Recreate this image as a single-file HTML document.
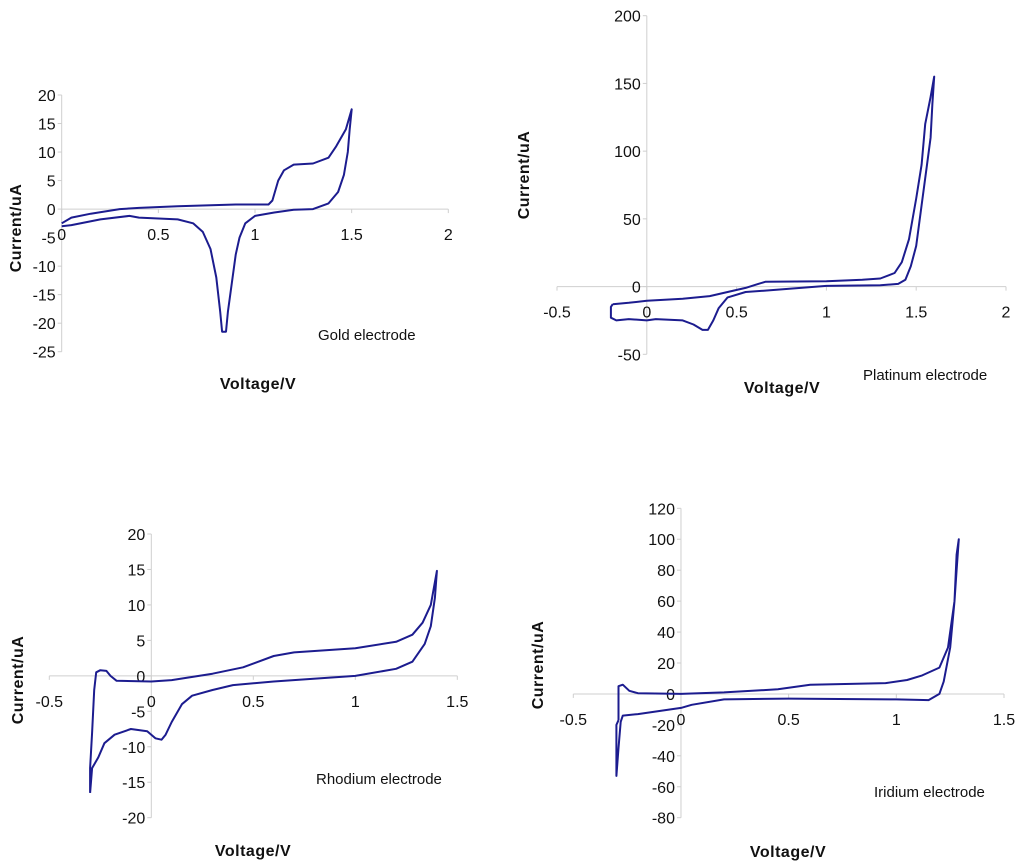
<!DOCTYPE html>
<html><head><meta charset="utf-8"><style>
body{margin:0;background:#fff}
svg{display:block}
text{font-family:"Liberation Sans",Arial,sans-serif;fill:#111}
.tick{font-size:16px}
.title{font-size:16px;font-weight:bold;letter-spacing:0.5px}
.note{font-size:15px}
</style></head><body>
<svg id="chart" width="1024" height="868" viewBox="0 0 1024 868"></svg>
<script>
// Gold electrode
const goldX=[0,0.05,0.15,0.3,0.4,0.6,0.9,1.07,1.09,1.12,1.15,1.2,1.3,1.38,1.42,1.47,1.5,1.49,1.48,1.46,1.43,1.38,1.3,1.2,1.1,1.0,0.95,0.92,0.9,0.88,0.86,0.85,0.83,0.82,0.8,0.77,0.73,0.68,0.6,0.4,0.35,0.2,0.05,0];
const goldY=[-2.5,-1.5,-0.8,0,0.2,0.5,0.8,0.8,1.5,5,6.8,7.8,8,9,11,14,17.5,14,10,6,3,1,0,-0.1,-0.6,-1.2,-2.5,-5,-8,-13,-18,-21.5,-21.5,-18,-12,-7,-4,-2.5,-1.8,-1.5,-1.2,-1.8,-2.8,-3];
const goldXTicks=["0","0.5","1","1.5","2"];
const goldYTicks=["20","15","10","5","0","-5","-10","-15","-20","-25"];
// Platinum electrode
const ptX=[-0.19,-0.1,0,0.2,0.35,0.45,0.55,0.62,0.66,1.0,1.2,1.3,1.38,1.42,1.46,1.5,1.53,1.55,1.58,1.6,1.59,1.58,1.56,1.53,1.5,1.47,1.44,1.4,1.3,1.0,0.66,0.55,0.45,0.4,0.37,0.34,0.31,0.26,0.2,0.05,0,-0.1,-0.17,-0.2,-0.2,-0.19];
const ptY=[-13,-12,-10.5,-9,-7,-4,-1,2,3.5,4,5,6,10,18,35,65,90,120,140,155,135,110,90,60,30,15,5,2,1,0.5,-3,-4,-8,-16,-25,-32,-32,-28,-25,-24,-25,-24,-25,-23,-15,-13];
const ptXTicks=["-0.5","0","0.5","1","1.5","2"];
const ptYTicks=["200","150","100","50","0","-50"];
// Rhodium electrode
const rhX=[-0.3,-0.3,-0.29,-0.28,-0.27,-0.25,-0.22,-0.2,-0.17,0,0.1,0.3,0.45,0.6,0.7,1.0,1.2,1.28,1.33,1.37,1.4,1.39,1.37,1.34,1.28,1.2,1.0,0.6,0.4,0.3,0.2,0.15,0.1,0.07,0.05,0.02,-0.02,-0.1,-0.18,-0.23,-0.26,-0.29,-0.3];
const rhY=[-16.5,-13,-8,-2,0.5,0.8,0.7,0,-0.7,-0.8,-0.6,0.3,1.2,2.8,3.3,3.9,4.8,5.8,7.5,10,14.8,11,7,4.5,2,1,0,-0.8,-1.3,-2,-2.8,-4,-6.5,-8.3,-9,-8.8,-7.8,-7.5,-8.3,-9.5,-11.5,-13,-16.5];
const rhXTicks=["-0.5","0","0.5","1","1.5"];
const rhYTicks=["20","15","10","5","0","-5","-10","-15","-20"];
// Iridium electrode
const irX=[-0.29,-0.29,-0.27,-0.24,-0.2,0,0.2,0.45,0.6,0.95,1.05,1.12,1.2,1.24,1.27,1.28,1.29,1.28,1.27,1.25,1.22,1.2,1.15,1.0,0.5,0.2,0.05,0,-0.1,-0.2,-0.27,-0.28,-0.29,-0.3,-0.3,-0.29];
const irY=[-17,5,6,2,0.5,0,1,3,6,7,9,12,17,30,60,90,100,80,60,30,8,0,-4,-3.5,-3,-3.5,-7,-9,-11,-13,-14,-18,-35,-53,-20,-17];
const irXTicks=["-0.5","0","0.5","1","1.5"];
const irYTicks=["120","100","80","60","40","20","0","-20","-40","-60","-80"];

const NS="http://www.w3.org/2000/svg";
const svg=document.getElementById('chart');
function mk(tag,attrs,parent){const e=document.createElementNS(NS,tag);for(const k in attrs)e.setAttribute(k,attrs[k]);(parent||svg).appendChild(e);return e;}

const panels=[
 {key:'gold',xs:goldX,ys:goldY,xt:goldXTicks,yt:goldYTicks,x0:61.7,x1:448.3,vmin:0,vmax:2,yTop:95,yBot:351.7,imax:20,imin:-25,
  ytitle:[16,228],xtitle:[258,389],label:'Gold electrode',lab:[318,340]},
 {key:'platinum',xs:ptX,ys:ptY,xt:ptXTicks,yt:ptYTicks,x0:557,x1:1006,vmin:-0.5,vmax:2,yTop:15.7,yBot:354.3,imax:200,imin:-50,
  ytitle:[524,175],xtitle:[782,393],label:'Platinum electrode',lab:[863,380]},
 {key:'rhodium',xs:rhX,ys:rhY,xt:rhXTicks,yt:rhYTicks,x0:49.3,x1:457.3,vmin:-0.5,vmax:1.5,yTop:534,yBot:817.7,imax:20,imin:-20,
  ytitle:[18,680],xtitle:[253,856],label:'Rhodium electrode',lab:[316,784]},
 {key:'iridium',xs:irX,ys:irY,xt:irXTicks,yt:irYTicks,x0:573.3,x1:1004,vmin:-0.5,vmax:1.5,yTop:508.3,yBot:817.7,imax:120,imin:-80,
  ytitle:[538,665],xtitle:[788,857],label:'Iridium electrode',lab:[874,797]}
];

panels.forEach(p=>{
  const g=mk('g',{});
  
  
  const sx=v=>p.x0+(v-p.vmin)/(p.vmax-p.vmin)*(p.x1-p.x0);
  const sy=i=>p.yTop+(p.imax-i)/(p.imax-p.imin)*(p.yBot-p.yTop);
  const ax=sx(0), ay=sy(0);
  const yl=mk('line',{x1:ax,y1:p.yTop,x2:ax,y2:p.yBot,stroke:'#cfcfcf','stroke-width':1},g);
  
  
  const xl=mk('line',{x1:p.x0,y1:ay,x2:p.x1,y2:ay,stroke:'#cfcfcf','stroke-width':1},g);
  
  
  p.yt.forEach(t=>{
    const y=sy(parseFloat(t));
    mk('line',{x1:ax-4,y1:y,x2:ax,y2:y,stroke:'#cfcfcf'},g);
    const tx=mk('text',{x:ax-6,y:y+6,'text-anchor':'end',class:'tick'},g);
    tx.textContent=t;
    
    
  });
  p.xt.forEach(t=>{
    const x=sx(parseFloat(t));
    mk('line',{x1:x,y1:ay,x2:x,y2:ay+4,stroke:'#cfcfcf'},g);
    const tx=mk('text',{x:x,y:ay+31,'text-anchor':'middle',class:'tick'},g);
    tx.textContent=t;
    
    
  });
  const pts=p.xs.map((v,i)=>sx(v).toFixed(1)+','+sy(p.ys[i]).toFixed(1)).join(' ');
  const pl=mk('polyline',{points:pts,fill:'none',stroke:'#1c1c8f','stroke-width':2,'stroke-linejoin':'round'},g);
  
  
  const yt=mk('text',{x:0,y:0,class:'title','text-anchor':'middle',transform:`translate(${p.ytitle[0]+5},${p.ytitle[1]}) rotate(-90)`},g);
  yt.textContent='Current/uA';
  
  
  const xt=mk('text',{x:p.xtitle[0],y:p.xtitle[1],class:'title','text-anchor':'middle'},g);
  xt.textContent='Voltage/V';
  
  
  const lb=mk('text',{x:p.lab[0],y:p.lab[1],class:'note'},g);
  lb.textContent=p.label;
  
  
});
</script>
</body></html>
